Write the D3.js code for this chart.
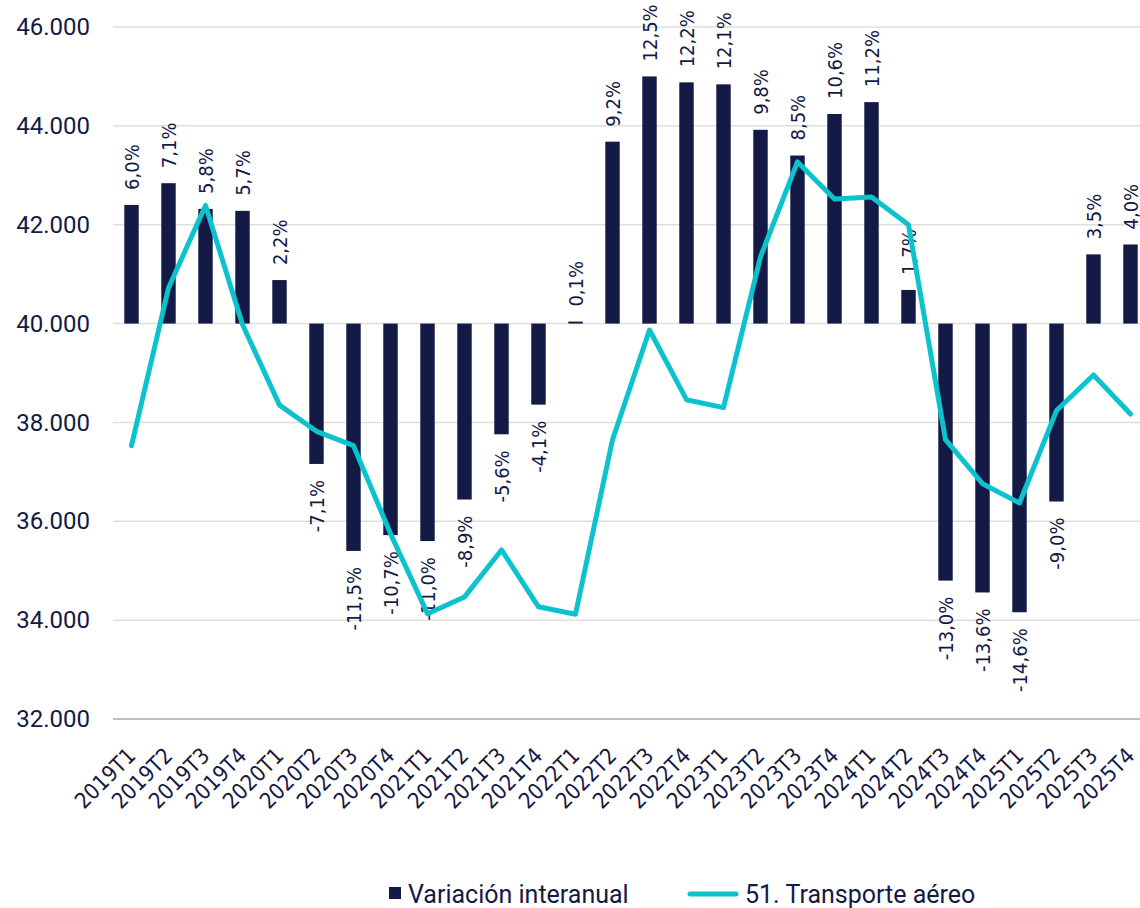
<!DOCTYPE html>
<html>
<head>
<meta charset="utf-8">
<script src="https://cdn.jsdelivr.net/npm/d3@7"></script>
<style>
  body { margin: 0; background: #fff; }
  svg { display: block; }
  .lbl { font-family: "DejaVu Sans Condensed", "DejaVu Sans", sans-serif; font-stretch: condensed; fill: #141a46; }
</style>
</head>
<body>
<svg id="chart" width="1140" height="908"></svg>
<script>
// quarters on the x axis
var quarters = ["2019T1", "2019T2", "2019T3", "2019T4", "2020T1", "2020T2", "2020T3", "2020T4",
                "2021T1", "2021T2", "2021T3", "2021T4", "2022T1", "2022T2", "2022T3", "2022T4",
                "2023T1", "2023T2", "2023T3", "2023T4", "2024T1", "2024T2", "2024T3", "2024T4",
                "2025T1", "2025T2", "2025T3", "2025T4"];

// 51. Transporte aéreo (left axis)
var transporte = [37530, 40720, 42390, 39980, 38350, 37820, 37530, 35750,
                  34130, 34470, 35420, 34270, 34120, 37650, 39870, 38460,
                  38300, 41350, 43270, 42520, 42560, 42000, 37650, 36760,
                  36370, 38240, 38960, 38170];

// Variación interanual, % (hidden right axis, 0 sits on 40.000)
var variacion = [6.0, 7.1, 5.8, 5.7, 2.2, -7.1, -11.5, -10.7,
                 -11.0, -8.9, -5.6, -4.1, 0.1, 9.2, 12.5, 12.2,
                 12.1, 9.8, 8.5, 10.6, 11.2, 1.7, -13.0, -13.6,
                 -14.6, -9.0, 3.5, 4.0];

var yTicks = [32000, 34000, 36000, 38000, 40000, 42000, 44000, 46000];
var legendNames = ["Variación interanual", "51. Transporte aéreo"];

var navy = "#131a45", cyan = "#0cc3cd";
var es = d3.formatLocale({decimal: ",", thousands: ".", grouping: [3], currency: ["", " €"], minus: "-"});

var svg = d3.select("#chart");
var plotL = 113, plotR = 1149, plotT = 27, plotB = 719;

var x = d3.scalePoint().domain(quarters).range([plotL, plotR]).padding(0.5);
var y = d3.scaleLinear().domain([32000, 46000]).range([plotB, plotT]);
var yPct = d3.scaleLinear().domain([-20, 15]).range([plotB, plotT]);
var barW = x.step() * 0.39;

// grid lines
svg.append("g")
  .selectAll("line")
  .data(yTicks).enter().append("line")
    .attr("x1", plotL).attr("x2", 1140)
    .attr("y1", d => y(d)).attr("y2", d => y(d))
    .style("stroke", d => d == 32000 ? "#a9a9a9" : "#dedede")
    .style("stroke-width", 1.5);

// left axis labels
var yAxis = d3.axisLeft(y).tickValues(yTicks).tickSize(0).tickPadding(23).tickFormat(es.format(","));
svg.append("g")
    .attr("transform", "translate(" + plotL + ",0)")
    .call(yAxis)
    .call(g => g.select(".domain").remove())
    .selectAll("text")
      .style("font-family", "Roboto, sans-serif")
      .style("font-size", "24px")
      .style("fill", navy);

// bottom axis, rotated labels
var xAxis = d3.axisBottom(x).tickSize(0);
svg.append("g")
    .attr("transform", "translate(0," + plotB + ")")
    .call(xAxis)
    .call(g => g.select(".domain").remove())
    .selectAll("text")
      .attr("class", "lbl")
      .attr("text-anchor", "end")
      .attr("y", 0).attr("dy", 0)
      .attr("transform", "translate(5,38) rotate(-45)")
      .style("font-size", "22px");

// bars
svg.append("g")
  .selectAll("rect")
  .data(variacion).enter().append("rect")
    .attr("x", (d, i) => x(quarters[i]) - barW / 2)
    .attr("width", barW)
    .attr("y", d => yPct(Math.max(0, d)))
    .attr("height", d => Math.abs(yPct(d) - yPct(0)))
    .style("fill", navy);

// bar labels
var fmt = es.format(".1f");
svg.append("g")
  .selectAll("text")
  .data(variacion).enter().append("text")
    .attr("class", "lbl")
    .attr("transform", (d, i) => "translate(" + x(quarters[i]) + "," +
          (d >= 0 ? yPct(d) - 15 : yPct(d) + 16) + ") rotate(-90)")
    .attr("dy", "0.36em")
    .attr("text-anchor", d => d >= 0 ? "start" : "end")
    .style("font-size", "20px")
    .text(d => fmt(d) + "%");

// line
var line = d3.line()
    .x((d, i) => x(quarters[i]))
    .y(d => y(d));

svg.append("path")
    .datum(transporte)
    .attr("d", line)
    .style("fill", "none")
    .style("stroke", cyan)
    .style("stroke-width", 5)
    .style("stroke-linejoin", "round")
    .style("stroke-linecap", "round");

// legend
var legend = svg.append("g").style("font-family", "Roboto, sans-serif").style("font-size", "25px");
legend.append("rect")
    .attr("x", 389).attr("y", 887).attr("width", 12).attr("height", 12)
    .style("fill", navy);
legend.append("text")
    .attr("x", 408).attr("y", 903)
    .style("fill", navy)
    .text(legendNames[0]);
legend.append("line")
    .attr("x1", 690).attr("x2", 736).attr("y1", 894).attr("y2", 894)
    .style("stroke", cyan).style("stroke-width", 5).style("stroke-linecap", "round");
legend.append("text")
    .attr("x", 745).attr("y", 903)
    .style("fill", navy)
    .text(legendNames[1]);
</script>
</body>
</html>
